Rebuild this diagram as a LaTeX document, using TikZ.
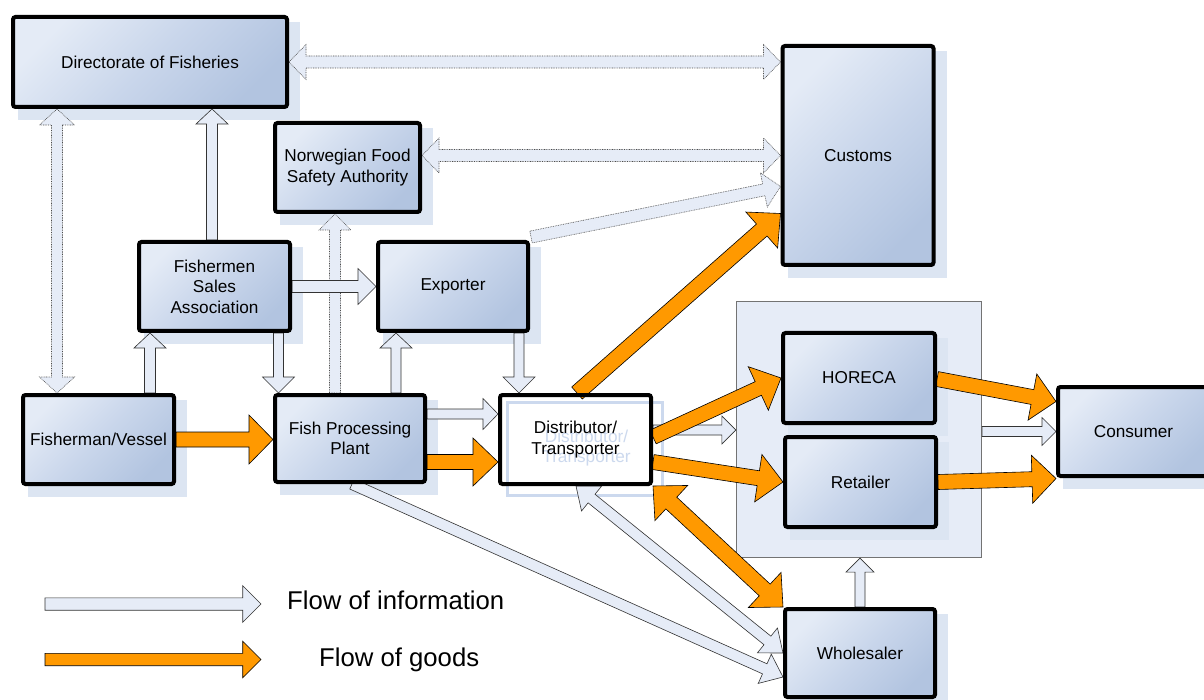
\documentclass[tikz,border=0pt]{standalone}
\usepackage{fontspec}
\setmainfont{Liberation Sans}
\usetikzlibrary{calc}
\pgfdeclarelayer{bg}
\pgfdeclarelayer{mid}
\pgfsetlayers{bg,mid,main}
\definecolor{boxlight}{HTML}{E4EBF6}
\definecolor{boxmid}{HTML}{C9D6EB}
\definecolor{boxdark}{HTML}{B2C4E0}
\definecolor{shadowc}{HTML}{DCE5F2}
\definecolor{contfill}{HTML}{E6ECF7}
\definecolor{infofill}{HTML}{E6ECF7}
\definecolor{goodsc}{HTML}{FF9900}
\definecolor{ghostc}{HTML}{CCD9EE}
\newcommand\barrow[6][]{%
  \coordinate (baA) at (#2);
  \coordinate (baB) at (#3);
  \coordinate (baH) at ($(baB)!#6!(baA)$);
  \draw[#1] ($(baA)!#4!90:(baB)$) -- ($(baH)!#4!-90:(baA)$) -- ($(baH)!#5!-90:(baA)$) -- (baB)
    -- ($(baH)!#5!90:(baA)$) -- ($(baH)!#4!90:(baA)$) -- ($(baA)!#4!-90:(baB)$) -- cycle;
}
\newcommand\dbarrow[6][]{%
  \coordinate (baA) at (#2);
  \coordinate (baB) at (#3);
  \coordinate (baHA) at ($(baA)!#6!(baB)$);
  \coordinate (baHB) at ($(baB)!#6!(baA)$);
  \draw[#1] (baA) -- ($(baHA)!#5!90:(baB)$) -- ($(baHA)!#4!90:(baB)$) -- ($(baHB)!#4!-90:(baA)$)
    -- ($(baHB)!#5!-90:(baA)$) -- (baB) -- ($(baHB)!#5!90:(baA)$) -- ($(baHB)!#4!90:(baA)$)
    -- ($(baHA)!#4!-90:(baB)$) -- ($(baHA)!#5!-90:(baB)$) -- cycle;
}
\tikzset{
  entity/.style={draw=black, line width=4pt, rounded corners=2.5pt,
    top color=boxlight, bottom color=boxdark, middle color=boxmid, shading angle=45,
    align=center, font=\fontsize{17.2}{20.5}\selectfont, inner sep=0pt},
  plainbox/.style={draw=black, line width=4pt, rounded corners=2.5pt,
    align=center, font=\fontsize{17.2}{20.5}\selectfont, inner sep=0pt},
  container/.style={draw=black!55, line width=1.2pt, fill=contfill, inner sep=0pt},
  info/.style={fill=infofill, draw=black!80, line width=0.6pt, line join=miter},
  dotinfo/.style={fill=infofill, draw=black!70, line width=0.6pt, dash pattern=on 0.8pt off 0.9pt, line join=miter},
  goods/.style={fill=goodsc, draw=black, line width=0.6pt, line join=miter},
  legendtext/.style={font=\fontsize{25.7}{28}\selectfont, inner sep=0pt, anchor=base west}
}
\begin{document}
\begin{tikzpicture}[x=1pt,y=-1pt]
\useasboundingbox (0,0) rectangle (1204,700);

% background and container
\begin{pgfonlayer}{bg}
\fill[white] (0,0) rectangle (1204,700);
\node[container, minimum width=245pt, minimum height=256pt] (box) at (859,429.5) {};
\end{pgfonlayer}

% entities
\node[entity, minimum width=274pt, minimum height=90pt] (dof) at (150,62) {Directorate of Fisheries};
\node[entity, minimum width=145pt, minimum height=89pt] (nfsa) at (347.5,167.5) {Norwegian Food\\Safety Authority};
\node[entity, minimum width=151pt, minimum height=219pt] (customs) at (858,155.5) {Customs};
\node[entity, minimum width=151pt, minimum height=89pt] (fsa) at (214.5,286.5) {Fishermen\\Sales\\Association};
\node[entity, minimum width=150pt, minimum height=89pt] (exp) at (453,286.5) {Exporter};
\node[entity, minimum width=151pt, minimum height=89pt] (fv) at (98.5,439.5) {Fisherman/Vessel};
\node[entity, minimum width=150pt, minimum height=87pt] (fpp) at (350,438.5) {Fish Processing\\Plant};
\node[font=\fontsize{17.2}{20.5}\selectfont, align=center, inner sep=0pt, text=ghostc] (distghost) at (586.5,448) {Distributor/\\Transporter};
\node[plainbox, minimum width=151pt, minimum height=89pt] (dist) at (575.5,439.5) {Distributor/\\Transporter};
\node[entity, minimum width=152pt, minimum height=90pt] (horeca) at (859,378) {HORECA};
\node[entity, minimum width=151pt, minimum height=90pt] (ret) at (860.5,482) {Retailer};
\node[entity, minimum width=151pt, minimum height=89pt] (cons) at (1133.5,431.5) {Consumer};
\node[entity, minimum width=150pt, minimum height=88pt] (whole) at (860,653) {Wholesaler};

% shadows
\begin{pgfonlayer}{bg}
\foreach \n in {dof,nfsa,customs,fsa,exp,fv,fpp,horeca,ret,cons,whole}{
  \fill[shadowc] ($(\n.north west)+(7,7)$) rectangle ($(\n.south east)+(11,11)$);
}
\draw[ghostc, line width=3pt] ($(dist.north west)+(9,9)$) rectangle ($(dist.south east)+(9,9)$);
\end{pgfonlayer}

% connectors
\begin{pgfonlayer}{mid}
% dotted information flows
\dbarrow[dotinfo]{dof.east}{customs.west |- dof.east}{6pt}{17.5pt}{17pt}
\coordinate (nfsaR) at ($(nfsa.east)+(0,-12)$);
\dbarrow[dotinfo]{nfsaR}{customs.west |- nfsaR}{6pt}{17.5pt}{17pt}
\barrow[dotinfo]{$(exp.north east)+(1,-3)$}{$(customs.west)+(0,31)$}{6pt}{17.5pt}{17pt}
\dbarrow[dotinfo]{dof.south -| 57,0}{fv.north -| 57,0}{5.5pt}{17.5pt}{16pt}
\barrow[dotinfo]{fpp.north -| 335,0}{nfsa.south -| 335,0}{5.5pt}{16pt}{16pt}
% information flows
\barrow[info]{fsa.north -| 212,0}{dof.south -| 212,0}{5.5pt}{16pt}{15pt}
\barrow[info]{fsa.east}{exp.west}{6pt}{18pt}{18pt}
\barrow[info]{fv.north -| 150,0}{fsa.south -| 150,0}{5.5pt}{16pt}{15pt}
\barrow[info]{fsa.south -| 278.5,0}{fpp.north -| 278.5,0}{5pt}{16pt}{16pt}
\barrow[info]{fpp.north -| 396,0}{exp.south -| 396,0}{5pt}{16pt}{15pt}
\barrow[info]{exp.south -| 519,0}{dist.north -| 519,0}{5pt}{16pt}{16pt}
\barrow[info]{fpp.east |- 0,414}{dist.west |- 0,414}{5pt}{15.5pt}{15pt}
\barrow[info]{dist.east |- 0,430}{box.west |- 0,430}{5pt}{14pt}{14pt}
\barrow[info]{box.east |- cons.west}{cons.west}{5pt}{14pt}{14pt}
\barrow[info]{whole.north -| 860,0}{box.south -| 860,0}{5pt}{14pt}{14pt}
\dbarrow[info]{dist.south -| 576,0}{whole.west}{5.5pt}{16pt}{20pt}
\barrow[info]{fpp.south -| 352,0}{$(whole.west)+(0,24)$}{5.5pt}{16pt}{20pt}
% goods flows
\barrow[goods]{fv.east}{fpp.west |- fv.east}{7.5pt}{24.5pt}{24pt}
\barrow[goods]{fpp.east |- 0,462}{dist.west |- 0,462}{7.5pt}{24pt}{25pt}
\barrow[goods]{dist.north -| 577,0}{$(customs.west)+(0,58)$}{8pt}{24pt}{25pt}
\barrow[goods]{dist.east |- 0,437}{horeca.west}{7.5pt}{24pt}{25pt}
\barrow[goods]{dist.east |- 0,462}{ret.west}{7.5pt}{24pt}{25pt}
\barrow[goods]{horeca.east |- 0,379}{$(cons.west)+(0,-30)$}{7.5pt}{23.5pt}{24pt}
\barrow[goods]{ret.east}{$(cons.west)+(0,47)$}{7.5pt}{24pt}{24pt}
\dbarrow[goods]{dist.south east}{whole.north west}{8pt}{24pt}{25pt}
% legend
\coordinate (li1) at (45,604);
\coordinate (li2) at (261,604);
\coordinate (lg1) at (45,659.5);
\coordinate (lg2) at (261,659.5);
\barrow[info]{li1}{li2}{6.2pt}{18.3pt}{18.3pt}
\barrow[goods]{lg1}{lg2}{6.2pt}{18.3pt}{18.3pt}
\end{pgfonlayer}

\node[legendtext] (linfo) at (287,609) {Flow of information};
\node[legendtext] (lgoods) at (319,666) {Flow of goods};
\end{tikzpicture}
\end{document}
